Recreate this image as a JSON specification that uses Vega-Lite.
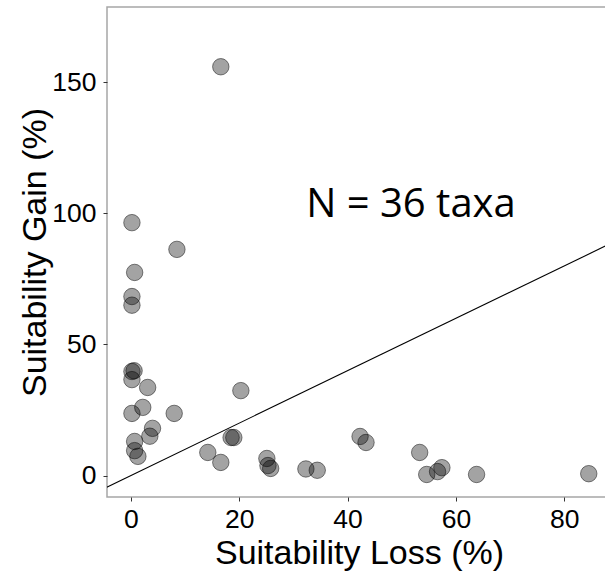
{
  "$schema": "https://vega.github.io/schema/vega-lite/v6.json",
  "width": 500,
  "height": 490,
  "autosize": {"type": "none"},
  "padding": {"left": 107, "top": 7, "right": 0, "bottom": 74},
  "background": "white",
  "config": {
    "view": {"stroke": "#a6a6a6", "strokeWidth": 1.5},
    "axis": {
      "grid": false,
      "domain": false,
      "tickColor": "#333333",
      "tickSize": 4,
      "tickWidth": 1,
      "labelFont": "Liberation Sans",
      "labelFontSize": 26.5,
      "labelColor": "#000000",
      "titleFont": "Liberation Sans",
      "titleFontSize": 34,
      "titleFontWeight": "normal",
      "titleColor": "#000000"
    }
  },
  "datasets": {
    "pts": [
      {"loss": 16.6, "gain": 156},
      {"loss": 0.2, "gain": 96.5},
      {"loss": 8.5, "gain": 86.3},
      {"loss": 0.7, "gain": 77.5},
      {"loss": 0.2, "gain": 68.3},
      {"loss": 0.2, "gain": 65},
      {"loss": 0.2, "gain": 39.7},
      {"loss": 0.6, "gain": 40},
      {"loss": 0.2, "gain": 36.6},
      {"loss": 3.1, "gain": 33.6},
      {"loss": 20.3, "gain": 32.4},
      {"loss": 0.2, "gain": 23.7},
      {"loss": 2.2, "gain": 26},
      {"loss": 8, "gain": 23.7},
      {"loss": 4, "gain": 18},
      {"loss": 3.5, "gain": 15},
      {"loss": 0.7, "gain": 13},
      {"loss": 0.7, "gain": 9.5},
      {"loss": 1.3, "gain": 7.3},
      {"loss": 18.5, "gain": 14.5},
      {"loss": 19, "gain": 14.5},
      {"loss": 14.2, "gain": 8.8},
      {"loss": 16.6, "gain": 5},
      {"loss": 25.1, "gain": 6.5},
      {"loss": 25.3, "gain": 3.8},
      {"loss": 25.8, "gain": 2.7},
      {"loss": 32.3, "gain": 2.5},
      {"loss": 34.4, "gain": 2},
      {"loss": 42.3, "gain": 14.9},
      {"loss": 43.4, "gain": 12.6},
      {"loss": 53.3, "gain": 8.8},
      {"loss": 54.6, "gain": 0.4},
      {"loss": 56.6, "gain": 1.5},
      {"loss": 57.4, "gain": 3},
      {"loss": 63.8, "gain": 0.4},
      {"loss": 84.5, "gain": 0.7}
    ],
    "oneone": [
      {"loss": -10, "gain": -10},
      {"loss": 100, "gain": 100}
    ],
    "note": [
      {"loss": 51.7, "gain": 98.7, "label": "N = 36 taxa"}
    ]
  },
  "layer": [
    {
      "data": {"name": "oneone"},
      "mark": {"type": "line", "color": "#000000", "strokeWidth": 1.1, "clip": true},
      "encoding": {
        "x": {"field": "loss", "type": "quantitative"},
        "y": {"field": "gain", "type": "quantitative"}
      }
    },
    {
      "data": {"name": "pts"},
      "mark": {"type": "circle", "size": 270, "fill": "#000000", "fillOpacity": 0.36, "stroke": "#000000", "strokeOpacity": 0.48, "strokeWidth": 1},
      "encoding": {
        "x": {
          "field": "loss", "type": "quantitative",
          "scale": {"domain": [-4.4, 87.87], "nice": false, "zero": false},
          "axis": {"title": "Suitability Loss (%)", "values": [0, 20, 40, 60, 80], "labelBaseline": "alphabetic", "labelPadding": 26, "titleBaseline": "alphabetic", "titleY": 66, "titleX": 252}
        },
        "y": {
          "field": "gain", "type": "quantitative",
          "scale": {"domain": [-8.2, 178.8], "nice": false, "zero": false},
          "axis": {"title": "Suitability Gain (%)", "values": [0, 50, 100, 150], "labelPadding": 7, "labelBaseline": "middle", "titleBaseline": "alphabetic", "titleX": -62, "titleY": 245, "titleAngle": -90, "titleAlign": "center"}
        }
      }
    },
    {
      "data": {"name": "note"},
      "mark": {"type": "text", "font": "Open Sans", "fontSize": 40, "color": "#000000", "align": "center", "baseline": "alphabetic"},
      "encoding": {
        "x": {"field": "loss", "type": "quantitative"},
        "y": {"field": "gain", "type": "quantitative"},
        "text": {"field": "label"}
      }
    }
  ]
}
